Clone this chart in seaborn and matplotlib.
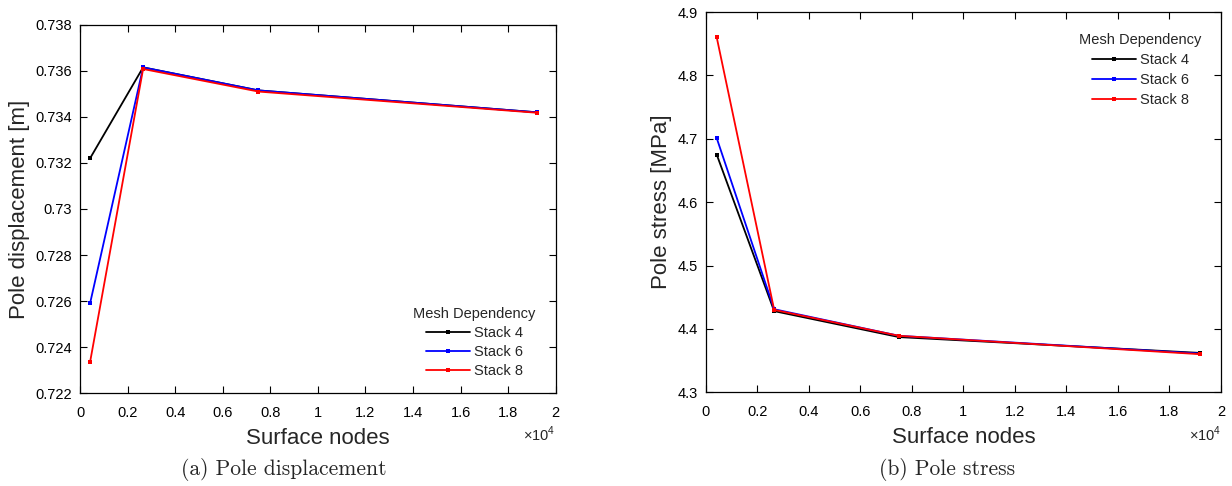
import numpy as np
import pandas as pd
import matplotlib
matplotlib.use("Agg")
import matplotlib.pyplot as plt
from matplotlib.ticker import FuncFormatter, MultipleLocator
import seaborn as sns

# ---- data ----
surface_nodes = [420, 2650, 7500, 19200]
stacks = ["Stack 4", "Stack 6", "Stack 8"]
disp_stack4 = [0.7322, 0.73615, 0.73515, 0.7342]
disp_stack6 = [0.7259, 0.73615, 0.73515, 0.7342]
disp_stack8 = [0.72335, 0.73608, 0.73510, 0.73418]
stress_stack4 = [4.675, 4.428, 4.387, 4.362]
stress_stack6 = [4.701, 4.431, 4.389, 4.361]
stress_stack8 = [4.860, 4.430, 4.389, 4.360]
colors = ["black", "blue", "red"]

def long_df(series):
    rows = []
    for name, vals in zip(stacks, series):
        for x, v in zip(surface_nodes, vals):
            rows.append({"Surface nodes": x, "value": v, "Stack": name})
    return pd.DataFrame(rows)

df_disp = long_df([disp_stack4, disp_stack6, disp_stack8])
df_stress = long_df([stress_stack4, stress_stack6, stress_stack8])

sns.set_style("ticks")
plt.rcParams["font.family"] = ["Liberation Sans", "DejaVu Sans"]
plt.rcParams["mathtext.fontset"] = "custom"
plt.rcParams["mathtext.rm"] = "Liberation Sans"

fig = plt.figure(figsize=(12.32, 4.86), dpi=100)
ax1 = fig.add_axes([0.065, 0.191, 0.386, 0.758])
ax2 = fig.add_axes([0.573, 0.193, 0.418, 0.782])

def fmt(v, pos):
    return f"{v/1e4:g}"

def style(ax, ylabel, ylim, ystep, yfmt, legloc, anchor, spacing):
    ax.set_xlim(0, 20000)
    ax.set_ylim(*ylim)
    ax.xaxis.set_major_locator(MultipleLocator(2000))
    ax.xaxis.set_major_formatter(FuncFormatter(fmt))
    ax.yaxis.set_major_locator(MultipleLocator(ystep))
    ax.yaxis.set_major_formatter(FuncFormatter(yfmt))
    ax.tick_params(direction="in", top=True, right=True, length=5, width=0.8,
                   labelsize=10.5, colors="black")
    ax.tick_params(axis="x", pad=9)
    ax.tick_params(axis="y", pad=6)
    for sp in ax.spines.values():
        sp.set_visible(True)
        sp.set_linewidth(0.9)
        sp.set_color("black")
    ax.set_xlabel("Surface nodes", fontsize=16, labelpad=6)
    ax.set_ylabel(ylabel, fontsize=16, labelpad=4)
    ax.text(1.0, -0.085, r"$\times10^{4}$", transform=ax.transAxes,
            ha="right", va="top", fontsize=10.5)
    ax.legend(title="Mesh Dependency", loc=legloc, bbox_to_anchor=anchor,
              frameon=False, fontsize=10.5, title_fontsize=10.5,
              handlelength=3.0, labelspacing=spacing, handletextpad=0.3,
              borderpad=0, borderaxespad=0)

sns.lineplot(data=df_disp, x="Surface nodes", y="value", hue="Stack",
             palette=colors, marker="s", markersize=3.5, markeredgewidth=0,
             linewidth=1.3, ax=ax1)
sns.lineplot(data=df_stress, x="Surface nodes", y="value", hue="Stack",
             palette=colors, marker="s", markersize=3.5, markeredgewidth=0,
             linewidth=1.3, ax=ax2)

style(ax1, "Pole displacement [m]", (0.722, 0.738), 0.002,
      lambda v, p: f"{v:.3f}".rstrip("0").rstrip("."), "lower right",
      (0.958, 0.041), 0.35)
style(ax2, "Pole stress [MPa]", (4.3, 4.9), 0.1,
      lambda v, p: f"{v:.1f}", "upper right", (0.963, 0.946), 0.42)

fig.text(0.2305, 0.033, "(a) Pole displacement", ha="center", va="center",
         fontsize=15.5, family="cmr10")
fig.text(0.769, 0.033, "(b) Pole stress", ha="center", va="center",
         fontsize=15.5, family="cmr10")

fig.savefig("out.png", dpi=100)
